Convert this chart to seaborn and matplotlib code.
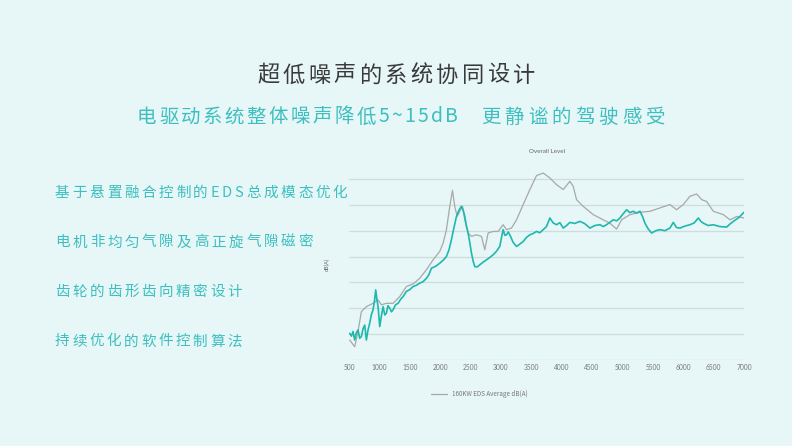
import numpy as np
import pandas as pd
import matplotlib
matplotlib.use("Agg")
import matplotlib.pyplot as plt
import seaborn as sns

# Valores (rpm, dB(A))
rpm_ref = [511, 593, 648, 703, 785, 895, 978, 1033, 1115, 1225, 1334, 1444, 1554, 1664,
           1774, 1883, 1993, 2048, 2103, 2158, 2202, 2240, 2279, 2323, 2367, 2405, 2460,
           2515, 2597, 2680, 2734, 2789, 2872, 2954, 3036, 3091, 3174, 3256, 3366, 3476,
           3585, 3695, 3805, 3915, 4025, 4134, 4189, 4244, 4354, 4519, 4683, 4793, 4903,
           4985, 5123, 5287, 5452, 5617, 5781, 5891, 6001, 6111, 6221, 6303, 6385, 6495,
           6660, 6770, 6880, 7000]
db_ref = [47.7, 45.1, 51.0, 58.7, 60.6, 61.9, 63.2, 61.3, 61.9, 61.9, 64.5, 68.4, 69.4, 71.6,
          74.9, 78.7, 82.0, 85.2, 90.4, 99.4, 105.6, 99.4, 95.5, 97.5, 99.4, 94.2, 89.1,
          87.8, 88.4, 87.8, 82.6, 89.1, 89.7, 89.7, 92.3, 90.4, 91.0, 94.2, 100.1, 105.9,
          111.3, 112.3, 110.4, 107.8, 105.9, 109.1, 107.2, 102.0, 99.4, 96.2, 94.2, 92.9, 90.6,
          94.2, 96.2, 97.1, 97.5, 98.8, 100.1, 98.1, 100.1, 103.3, 104.2, 102.0, 101.3, 97.5,
          96.2, 94.2, 95.5, 94.9]

rpm_eds = [511, 540, 566, 593, 620, 648, 675, 703, 730, 758, 785, 812, 840, 868, 895, 920,
           939, 958, 978, 1005, 1032, 1060, 1088, 1115, 1140, 1170, 1198, 1225, 1265, 1307,
           1348, 1389, 1444, 1500, 1554, 1610, 1664, 1720, 1774, 1815, 1856, 1925, 1993,
           2050, 2103, 2145, 2185, 2225, 2268, 2310, 2350, 2380, 2405, 2430, 2460, 2490,
           2515, 2545, 2570, 2610, 2652, 2705, 2762, 2815, 2872, 2925, 2981, 3010, 3036,
           3065, 3091, 3120, 3146, 3200, 3256, 3310, 3366, 3420, 3476, 3530, 3585, 3640,
           3695, 3750, 3805, 3860, 3915, 3970, 4025, 4080, 4134, 4215, 4299, 4380, 4464,
           4545, 4628, 4685, 4738, 4795, 4848, 4905, 4958, 5010, 5068, 5120, 5177, 5230,
           5287, 5330, 5370, 5425, 5479, 5550, 5617, 5700, 5781, 5836, 5890, 5946, 6030,
           6111, 6180, 6248, 6290, 6330, 6410, 6495, 6600, 6715, 6770, 6825, 6910, 7000]
db_eds = [50.3, 49.2, 51.0, 47.7, 50.5, 51.6, 48.4, 49.0, 52.0, 53.5, 47.7, 51.5, 54.2, 57.5,
          59.4, 63.0, 67.1, 63.5, 60.6, 52.9, 57.0, 60.6, 57.4, 58.1, 61.0, 60.0, 58.6, 59.4,
          61.3, 61.9, 63.4, 64.5, 66.5, 67.2, 68.4, 68.9, 69.7, 70.3, 71.6, 73.0, 75.5, 76.2,
          77.4, 78.6, 80.0, 82.6, 86.5, 91.0, 95.5, 98.0, 99.4, 97.8, 95.5, 92.0, 89.1,
          85.0, 81.3, 78.0, 76.1, 76.0, 76.8, 77.8, 78.7, 79.6, 80.7, 82.0, 83.9, 87.5, 90.4,
          88.2, 88.4, 89.5, 88.4, 85.5, 83.9, 84.8, 85.8, 87.4, 88.4, 88.9, 89.7, 89.2,
          90.4, 91.6, 94.9, 93.0, 92.3, 93.1, 91.0, 92.0, 93.2, 92.8, 93.6, 92.7, 91.0,
          92.0, 92.3, 91.6, 92.3, 93.3, 94.2, 93.8, 94.9, 96.5, 98.1, 97.0, 97.5, 96.8,
          97.5, 95.5, 92.9, 90.6, 89.1, 90.0, 90.4, 90.0, 91.0, 93.2, 91.2, 91.0, 91.8,
          92.3, 93.0, 94.9, 93.6, 92.9, 92.0, 92.3, 91.6, 91.4, 92.6, 93.6, 95.0, 97.1]

xticks = list(range(500, 7001, 500))
yticks = list(range(40, 111, 10))

titulo = "超低噪声的系统协同设计"
subtitulo_a = "电驱动系统整体噪声降低5~15dB"
subtitulo_b = "更静谧的驾驶感受"
puntos = ["基于悬置融合控制的EDS总成模态优化",
          "电机非均匀气隙及高正旋气隙磁密",
          "齿轮的齿形齿向精密设计",
          "持续优化的软件控制算法"]
# extremo derecho (px) de cada linea en la imagen
puntos_fin = [347, 313, 242, 242]

df_ref = pd.DataFrame({"rpm": rpm_ref, "db": db_ref})
df_eds = pd.DataFrame({"rpm": rpm_eds, "db": db_eds})

sns.set_theme(style="white")
plt.rcParams['font.family'] = ['Noto Sans CJK SC', 'DejaVu Sans']

BG = "#e7f6f7"
TEAL = "#3dbfbf"
W, H = 792, 446

fig = plt.figure(figsize=(7.92, 4.46), dpi=100, facecolor=BG)
ax = fig.add_axes([0.4407, 0.193, 0.4987, 0.426])
ax.set_facecolor(BG)

sns.lineplot(data=df_ref, x="rpm", y="db", ax=ax, color="#a8a8a8", linewidth=0.9,
             label="160KW EDS Average dB(A)")
sns.lineplot(data=df_eds, x="rpm", y="db", ax=ax, color="#1fb8ad", linewidth=1.2,
             label="_nolegend_")

ax.set_xlim(500, 7000)
ax.set_ylim(40, 113.5)
ax.set_xticks(xticks)
ax.set_yticks(yticks)
ax.set_yticklabels([])
ax.tick_params(axis="x", length=0, labelsize=4.8, labelcolor="#777777", pad=3)
ax.tick_params(axis="y", length=0)
for lab in ax.get_xticklabels():
    lab.set_family(["Lato", "DejaVu Sans"])
ax.grid(axis="y", color="#cfdcdd", linewidth=0.9)
ax.grid(axis="x", visible=False)
for s in ax.spines.values():
    s.set_visible(False)
ax.set_xlabel("")
ax.set_ylabel("dB(A)", fontsize=4, color="#666666", family=["Lato", "DejaVu Sans"], labelpad=10)
ax.set_title("Overall Level", fontsize=4.5, color="#666666", family=["Lato", "DejaVu Sans"],
             pad=12)

leg = ax.legend(loc="center", bbox_to_anchor=(0.33, -0.18), frameon=False, fontsize=4.5,
                handlelength=2.5, labelcolor="#777777")

renderer = fig.canvas.get_renderer()


def texto_espaciado(s, x0, x1, y, size, color):
    # dibuja letra por letra repartiendo el espacio entre x0 y x1 (px)
    yy = 1 - y / H
    textos = [fig.text(0, yy, ch, fontsize=size, color=color, ha="left", va="center")
              for ch in s]
    anchos = [t.get_window_extent(renderer).width for t in textos]
    gap = (x1 - x0 - sum(anchos)) / (len(s) - 1)
    x = x0
    for t, w in zip(textos, anchos):
        t.set_position((x / W, yy))
        x += w + gap


texto_espaciado(titulo, 257, 535, 75, 16, "#3a3a3a")
texto_espaciado(subtitulo_a, 137, 458, 117, 14, TEAL)
texto_espaciado(subtitulo_b, 481, 665, 117, 14, TEAL)
for i, (p, fin) in enumerate(zip(puntos, puntos_fin)):
    texto_espaciado(p, 55, fin, 193 + 49.5 * i, 10.5, TEAL)

fig.savefig("out.png", dpi=100, facecolor=BG)
